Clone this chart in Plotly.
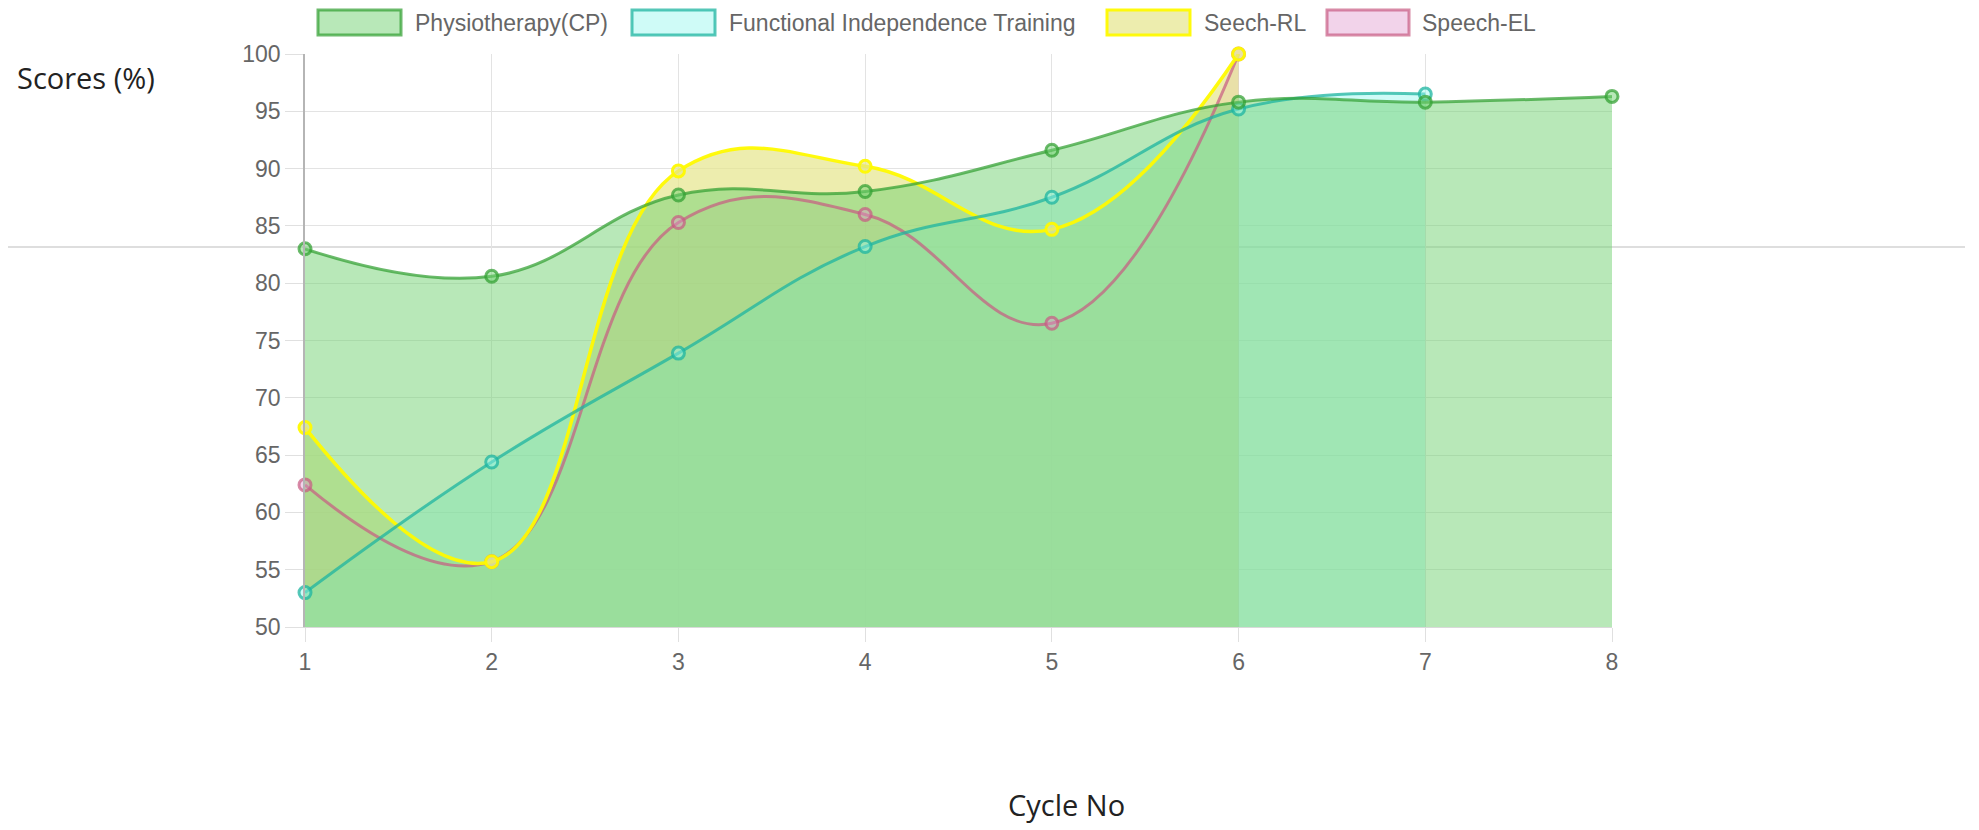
import plotly.graph_objects as go

# ---------------- data ----------------
cycles = [1, 2, 3, 4, 5, 6, 7, 8]
series_names = ["Physiotherapy(CP)", "Functional Independence Training", "Seech-RL", "Speech-EL"]
physio = [83.0, 80.6, 87.7, 88.0, 91.6, 95.8, 95.8, 96.3]
fit = [53.0, 64.4, 73.9, 83.2, 87.5, 95.2, 96.5]
seech_rl = [67.4, 55.7, 89.8, 90.2, 84.7, 100.0]
speech_el = [62.4, 55.7, 85.3, 86.0, 76.5, 100.0]
y_ticks = [50, 55, 60, 65, 70, 75, 80, 85, 90, 95, 100]

# ---------------- styles ----------------
fills = ["rgba(113,209,113,0.50)", "rgba(148,247,238,0.45)", "rgba(230,230,140,0.70)", "rgba(225,150,205,0.42)"]
lines = ["rgba(50,160,50,0.72)", "rgba(30,180,160,0.75)", "rgba(255,250,0,0.95)", "rgba(200,90,130,0.70)"]
data = [physio, fit, seech_rl, speech_el]

OFF = 8                      # page body margin
W, H = 1979 - OFF, 830 - OFF
L, R, T, B = 305 - OFF, 1612 - OFF, 53.5 - OFF, 627 - OFF   # plot area in figure pixels


def px(x):
    return (x - OFF - L) / (R - L)


def py(y):
    return (B - (y - OFF)) / (B - T)


fig = go.Figure()

# fills first (last dataset at the bottom, first dataset on top)
for i in reversed(range(4)):
    vals = data[i]
    fig.add_trace(go.Scatter(
        x=cycles[:len(vals)], y=vals, mode="lines",
        line=dict(width=0, shape="spline", smoothing=1.2, color="rgba(0,0,0,0)"),
        fill="tozeroy", fillcolor=fills[i], showlegend=False, hoverinfo="skip"))

# lines + points on top of all fills
for i in reversed(range(4)):
    vals = data[i]
    fig.add_trace(go.Scatter(
        x=cycles[:len(vals)], y=vals, mode="lines+markers", name=series_names[i],
        line=dict(width=3.5 if i == 2 else 3, shape="spline", smoothing=1.2, color=lines[i]),
        marker=dict(size=12, color=fills[i], line=dict(width=3, color=lines[i])),
        cliponaxis=False, showlegend=False))

shapes = []
annotations = []

# full-width light rule behind the chart
shapes.append(dict(type="line", xref="paper", yref="paper",
                   x0=px(0), x1=px(1965), y0=py(246.7), y1=py(246.7),
                   line=dict(color="#dedede", width=2), layer="below"))

# custom legend (large boxes like the original)
legend_boxes = [(318, 401), (632, 715), (1107, 1190), (1327, 1409)]
legend_text_x = [413, 727, 1202, 1420]
for i in range(4):
    x0, x1 = legend_boxes[i]
    shapes.append(dict(type="rect", xref="paper", yref="paper",
                       x0=px(x0), x1=px(x1), y0=py(34.5), y1=py(9.5),
                       fillcolor=fills[i], line=dict(color=lines[i], width=3)))
    annotations.append(dict(xref="paper", yref="paper", x=px(legend_text_x[i]), y=py(22),
                            xanchor="left", yanchor="middle", showarrow=False,
                            text=series_names[i],
                            font=dict(family="Liberation Sans, Arial", size=23, color="#666666")))

# axis titles placed like the original page
annotations.append(dict(xref="paper", yref="paper", x=px(15), y=py(77), xanchor="left",
                        yanchor="middle", showarrow=False, text="Scores (%)",
                        font=dict(family="Open Sans", size=29, color="#222222")))
annotations.append(dict(xref="paper", yref="paper", x=px(1066), y=py(805), xanchor="center",
                        yanchor="middle", showarrow=False, text="Cycle No",
                        font=dict(family="Open Sans", size=29, color="#222222")))

fig.update_layout(
    width=W, height=H,
    margin=dict(l=L, r=W - R, t=T, b=H - B, pad=0),
    paper_bgcolor="white", plot_bgcolor="rgba(0,0,0,0)",
    showlegend=False,
    shapes=shapes, annotations=annotations,
    xaxis=dict(range=[1, 8], tickmode="array", tickvals=cycles, ticktext=[str(c) for c in cycles],
               showgrid=True, gridcolor="#e3e3e3", gridwidth=1, zeroline=False,
               showline=True, linecolor="#d9d9d9", linewidth=1,
               ticks="outside", ticklen=14, tickcolor="#e0e0e0",
               tickfont=dict(family="Liberation Sans, Arial", size=23, color="#666666")),
    yaxis=dict(range=[50, 100], tickmode="array", tickvals=y_ticks,
               showgrid=True, gridcolor="#e3e3e3", gridwidth=1, zeroline=False,
               showline=True, linecolor="#b5b5b5", linewidth=1.5,
               ticks="outside", ticklen=18, tickcolor="#e0e0e0",
               tickfont=dict(family="Liberation Sans, Arial", size=23, color="#666666")),
)

fig.write_html("out.html")
